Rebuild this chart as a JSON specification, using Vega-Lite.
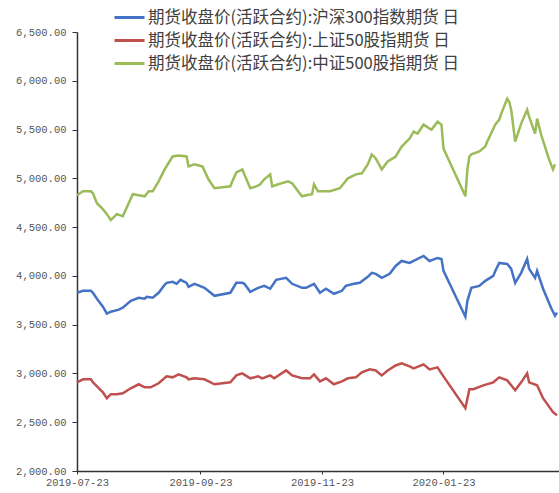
{
  "$schema": "https://vega.github.io/schema/vega-lite/v6.json",
  "width": 482,
  "height": 439,
  "autosize": "none",
  "padding": {"left": 77, "top": 32, "right": 0, "bottom": 22},
  "background": "white",
  "config": {
    "view": {"stroke": null},
    "axis": {"labelFont": "Liberation Mono", "labelFontSize": 10.5, "labelColor": "#555555", "domainColor": "#333333", "domainWidth": 1.5, "tickColor": "#333333", "grid": false, "title": null}
  },
  "datasets": {
    "hs300": [
      {"d":"2019-07-23","v":3827},{"d":"2019-07-26","v":3847},{"d":"2019-07-30","v":3847},{"d":"2019-07-31","v":3827},
      {"d":"2019-08-02","v":3766},{"d":"2019-08-05","v":3684},{"d":"2019-08-07","v":3613},{"d":"2019-08-09","v":3633},
      {"d":"2019-08-13","v":3654},{"d":"2019-08-15","v":3674},{"d":"2019-08-19","v":3745},{"d":"2019-08-23","v":3776},
      {"d":"2019-08-26","v":3766},{"d":"2019-08-27","v":3786},{"d":"2019-08-30","v":3776},{"d":"2019-09-02","v":3827},
      {"d":"2019-09-05","v":3909},{"d":"2019-09-06","v":3929},{"d":"2019-09-09","v":3939},{"d":"2019-09-11","v":3919},
      {"d":"2019-09-13","v":3960},{"d":"2019-09-16","v":3929},{"d":"2019-09-17","v":3888},{"d":"2019-09-20","v":3919},
      {"d":"2019-09-25","v":3878},{"d":"2019-09-30","v":3796},{"d":"2019-10-08","v":3827},{"d":"2019-10-11","v":3929},
      {"d":"2019-10-14","v":3929},{"d":"2019-10-15","v":3919},{"d":"2019-10-18","v":3837},{"d":"2019-10-22","v":3878},
      {"d":"2019-10-25","v":3898},{"d":"2019-10-28","v":3868},{"d":"2019-10-31","v":3960},{"d":"2019-11-05","v":3980},
      {"d":"2019-11-08","v":3919},{"d":"2019-11-13","v":3878},{"d":"2019-11-15","v":3878},{"d":"2019-11-19","v":3919},
      {"d":"2019-11-22","v":3827},{"d":"2019-11-25","v":3868},{"d":"2019-11-29","v":3817},{"d":"2019-12-03","v":3847},
      {"d":"2019-12-05","v":3898},{"d":"2019-12-09","v":3919},{"d":"2019-12-12","v":3929},{"d":"2019-12-16","v":3990},
      {"d":"2019-12-18","v":4031},{"d":"2019-12-20","v":4021},{"d":"2019-12-23","v":3980},{"d":"2019-12-27","v":4021},
      {"d":"2019-12-30","v":4102},{"d":"2020-01-02","v":4153},{"d":"2020-01-06","v":4133},{"d":"2020-01-08","v":4153},
      {"d":"2020-01-13","v":4204},{"d":"2020-01-16","v":4153},{"d":"2020-01-20","v":4184},{"d":"2020-01-22","v":4174},
      {"d":"2020-01-23","v":4051},{"d":"2020-02-03","v":3582},{"d":"2020-02-04","v":3745},{"d":"2020-02-06","v":3878},
      {"d":"2020-02-10","v":3898},{"d":"2020-02-13","v":3949},{"d":"2020-02-17","v":4000},{"d":"2020-02-18","v":4051},
      {"d":"2020-02-20","v":4133},{"d":"2020-02-24","v":4123},{"d":"2020-02-26","v":4072},{"d":"2020-02-28","v":3929},
      {"d":"2020-03-02","v":4031},{"d":"2020-03-05","v":4174},{"d":"2020-03-06","v":4072},{"d":"2020-03-09","v":3980},
      {"d":"2020-03-10","v":4051},{"d":"2020-03-13","v":3868},{"d":"2020-03-17","v":3674},{"d":"2020-03-19","v":3592},
      {"d":"2020-03-20","v":3623}
    ],
    "sz50": [
      {"d":"2019-07-23","v":2909},{"d":"2019-07-26","v":2940},{"d":"2019-07-30","v":2940},{"d":"2019-07-31","v":2909},
      {"d":"2019-08-05","v":2807},{"d":"2019-08-07","v":2746},{"d":"2019-08-09","v":2787},{"d":"2019-08-12","v":2787},
      {"d":"2019-08-15","v":2797},{"d":"2019-08-19","v":2848},{"d":"2019-08-23","v":2889},{"d":"2019-08-26","v":2858},
      {"d":"2019-08-29","v":2858},{"d":"2019-09-02","v":2899},{"d":"2019-09-06","v":2970},{"d":"2019-09-09","v":2960},
      {"d":"2019-09-12","v":2991},{"d":"2019-09-16","v":2960},{"d":"2019-09-17","v":2940},{"d":"2019-09-20","v":2950},
      {"d":"2019-09-25","v":2940},{"d":"2019-09-30","v":2889},{"d":"2019-10-08","v":2909},{"d":"2019-10-11","v":2980},
      {"d":"2019-10-14","v":3001},{"d":"2019-10-18","v":2950},{"d":"2019-10-22","v":2970},{"d":"2019-10-24","v":2950},
      {"d":"2019-10-28","v":2980},{"d":"2019-10-30","v":2950},{"d":"2019-11-05","v":3031},{"d":"2019-11-08","v":2980},
      {"d":"2019-11-13","v":2950},{"d":"2019-11-17","v":2950},{"d":"2019-11-19","v":2991},{"d":"2019-11-22","v":2919},
      {"d":"2019-11-25","v":2950},{"d":"2019-11-29","v":2889},{"d":"2019-12-03","v":2919},{"d":"2019-12-06","v":2950},
      {"d":"2019-12-10","v":2960},{"d":"2019-12-13","v":3011},{"d":"2019-12-17","v":3042},{"d":"2019-12-20","v":3031},
      {"d":"2019-12-23","v":2980},{"d":"2019-12-26","v":3031},{"d":"2019-12-30","v":3082},{"d":"2020-01-02","v":3103},
      {"d":"2020-01-06","v":3072},{"d":"2020-01-08","v":3052},{"d":"2020-01-13","v":3093},{"d":"2020-01-16","v":3042},
      {"d":"2020-01-20","v":3062},{"d":"2020-01-23","v":2970},{"d":"2020-02-03","v":2644},{"d":"2020-02-05","v":2838},
      {"d":"2020-02-07","v":2838},{"d":"2020-02-12","v":2878},{"d":"2020-02-17","v":2909},{"d":"2020-02-20","v":2960},
      {"d":"2020-02-24","v":2929},{"d":"2020-02-28","v":2827},{"d":"2020-03-02","v":2909},{"d":"2020-03-05","v":3001},
      {"d":"2020-03-06","v":2909},{"d":"2020-03-10","v":2878},{"d":"2020-03-13","v":2746},{"d":"2020-03-18","v":2603},
      {"d":"2020-03-20","v":2572}
    ],
    "zz500": [
      {"d":"2019-07-23","v":4827},{"d":"2019-07-26","v":4867},{"d":"2019-07-30","v":4867},{"d":"2019-07-31","v":4847},
      {"d":"2019-08-02","v":4745},{"d":"2019-08-05","v":4684},{"d":"2019-08-07","v":4633},{"d":"2019-08-09","v":4572},
      {"d":"2019-08-12","v":4633},{"d":"2019-08-15","v":4612},{"d":"2019-08-20","v":4837},{"d":"2019-08-23","v":4827},
      {"d":"2019-08-26","v":4816},{"d":"2019-08-28","v":4867},{"d":"2019-08-30","v":4867},{"d":"2019-09-02","v":4969},
      {"d":"2019-09-05","v":5092},{"d":"2019-09-09","v":5224},{"d":"2019-09-12","v":5235},{"d":"2019-09-16","v":5224},
      {"d":"2019-09-17","v":5122},{"d":"2019-09-20","v":5143},{"d":"2019-09-24","v":5122},{"d":"2019-09-27","v":4990},
      {"d":"2019-09-30","v":4898},{"d":"2019-10-08","v":4918},{"d":"2019-10-09","v":4969},{"d":"2019-10-11","v":5061},
      {"d":"2019-10-14","v":5092},{"d":"2019-10-15","v":5041},{"d":"2019-10-18","v":4898},{"d":"2019-10-21","v":4918},
      {"d":"2019-10-23","v":4939},{"d":"2019-10-25","v":4990},{"d":"2019-10-28","v":5041},{"d":"2019-10-29","v":4918},
      {"d":"2019-11-01","v":4939},{"d":"2019-11-06","v":4969},{"d":"2019-11-08","v":4949},{"d":"2019-11-11","v":4867},
      {"d":"2019-11-13","v":4816},{"d":"2019-11-15","v":4827},{"d":"2019-11-18","v":4837},{"d":"2019-11-19","v":4939},
      {"d":"2019-11-21","v":4867},{"d":"2019-11-25","v":4867},{"d":"2019-11-27","v":4867},{"d":"2019-12-02","v":4898},
      {"d":"2019-12-06","v":5000},{"d":"2019-12-10","v":5041},{"d":"2019-12-13","v":5051},{"d":"2019-12-16","v":5143},
      {"d":"2019-12-18","v":5245},{"d":"2019-12-20","v":5204},{"d":"2019-12-23","v":5092},{"d":"2019-12-26","v":5173},
      {"d":"2019-12-30","v":5224},{"d":"2020-01-02","v":5326},{"d":"2020-01-06","v":5408},{"d":"2020-01-08","v":5479},
      {"d":"2020-01-10","v":5459},{"d":"2020-01-13","v":5551},{"d":"2020-01-16","v":5510},{"d":"2020-01-17","v":5500},
      {"d":"2020-01-20","v":5581},{"d":"2020-01-22","v":5551},{"d":"2020-01-23","v":5306},{"d":"2020-02-03","v":4816},
      {"d":"2020-02-04","v":5092},{"d":"2020-02-05","v":5224},{"d":"2020-02-06","v":5245},{"d":"2020-02-10","v":5275},
      {"d":"2020-02-13","v":5326},{"d":"2020-02-14","v":5377},{"d":"2020-02-18","v":5551},{"d":"2020-02-20","v":5602},
      {"d":"2020-02-21","v":5663},{"d":"2020-02-24","v":5816},{"d":"2020-02-25","v":5785},{"d":"2020-02-26","v":5704},
      {"d":"2020-02-28","v":5377},{"d":"2020-03-02","v":5561},{"d":"2020-03-05","v":5704},{"d":"2020-03-06","v":5633},
      {"d":"2020-03-09","v":5459},{"d":"2020-03-10","v":5612},{"d":"2020-03-12","v":5449},{"d":"2020-03-16","v":5194},
      {"d":"2020-03-18","v":5092},{"d":"2020-03-19","v":5143}
    ]
  },
  "encoding": {
    "x": {
      "field": "d", "type": "temporal",
      "scale": {"type": "utc", "domain": [{"year": 2019, "month": 7, "date": 23, "utc": true}, {"year": 2020, "month": 3, "date": 21, "utc": true}]},
      "axis": {
        "values": [
          {"year": 2019, "month": 7, "date": 23, "utc": true},
          {"year": 2019, "month": 9, "date": 23, "utc": true},
          {"year": 2019, "month": 11, "date": 23, "utc": true},
          {"year": 2020, "month": 1, "date": 23, "utc": true}
        ],
        "format": "%Y-%m-%d", "tickSize": 3, "labelPadding": 3, "labelFlush": false, "labelOverlap": false
      }
    },
    "y": {
      "field": "v", "type": "quantitative",
      "scale": {"domain": [2000, 6500], "nice": false, "zero": false},
      "axis": {"values": [2000, 2500, 3000, 3500, 4000, 4500, 5000, 5500, 6000, 6500], "format": ",.2f", "tickSize": 5, "labelPadding": 6}
    }
  },
  "layer": [
    {
      "data": {"name": "hs300"},
      "mark": {"type": "line", "strokeWidth": 2.5, "interpolate": "linear"},
      "encoding": {
        "color": {
          "datum": "期货收盘价(活跃合约):沪深300指数期货 日", "type": "nominal",
          "scale": {
            "domain": ["期货收盘价(活跃合约):沪深300指数期货 日", "期货收盘价(活跃合约):上证50股指期货 日", "期货收盘价(活跃合约):中证500股指期货 日"],
            "range": ["#4472C4", "#C0504D", "#9BBB59"]
          },
          "legend": {
            "title": null, "orient": "none", "legendX": 41, "legendY": -26, "direction": "vertical",
            "symbolType": "M-1.5,0H1.5", "symbolSize": 400, "symbolStrokeWidth": 3,
            "labelFont": "Noto Sans CJK SC", "labelFontSize": 16.5, "labelColor": "#404040", "labelOffset": 7,
            "rowPadding": 3, "labelLimit": 500
          }
        }
      }
    },
    {
      "data": {"name": "sz50"},
      "mark": {"type": "line", "strokeWidth": 2.5},
      "encoding": {"color": {"datum": "期货收盘价(活跃合约):上证50股指期货 日", "type": "nominal"}}
    },
    {
      "data": {"name": "zz500"},
      "mark": {"type": "line", "strokeWidth": 2.5},
      "encoding": {"color": {"datum": "期货收盘价(活跃合约):中证500股指期货 日", "type": "nominal"}}
    }
  ]
}
